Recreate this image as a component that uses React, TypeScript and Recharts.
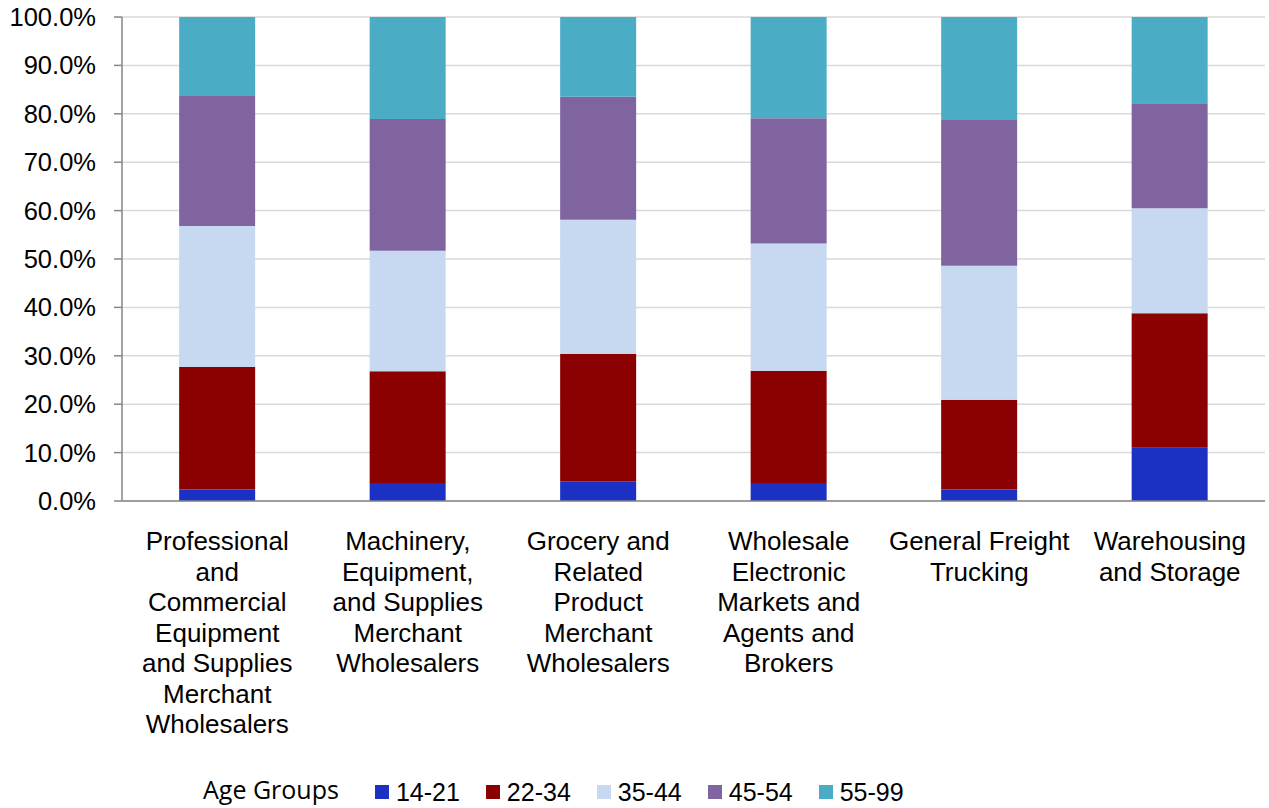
import React from 'react';
import { BarChart, Bar, XAxis, YAxis, CartesianGrid } from 'recharts';

const categories = [
  'Professional and Commercial Equipment and Supplies Merchant Wholesalers',
  'Machinery, Equipment, and Supplies Merchant Wholesalers',
  'Grocery and Related Product Merchant Wholesalers',
  'Wholesale Electronic Markets and Agents and Brokers',
  'General Freight Trucking',
  'Warehousing and Storage',
];

const categoryLines = [
  ['Professional', 'and', 'Commercial', 'Equipment', 'and Supplies', 'Merchant', 'Wholesalers'],
  ['Machinery,', 'Equipment,', 'and Supplies', 'Merchant', 'Wholesalers'],
  ['Grocery and', 'Related', 'Product', 'Merchant', 'Wholesalers'],
  ['Wholesale', 'Electronic', 'Markets and', 'Agents and', 'Brokers'],
  ['General Freight', 'Trucking'],
  ['Warehousing', 'and Storage'],
];

const seriesNames = ['14-21', '22-34', '35-44', '45-54', '55-99'];
const seriesColors = ['#1a31c4', '#8b0000', '#c6d9f0', '#8064a0', '#4bacc6'];

const age14_21 = [2.4, 3.7, 4.1, 3.7, 2.4, 11.0];
const age22_34 = [25.3, 23.1, 26.3, 23.2, 18.5, 27.8];
const age35_44 = [29.1, 24.9, 27.7, 26.3, 27.7, 21.7];
const age45_54 = [26.9, 27.2, 25.4, 25.9, 30.1, 21.7];
const age55_99 = [16.3, 21.1, 16.5, 20.9, 21.3, 17.8];

const yTicks = [0, 10, 20, 30, 40, 50, 60, 70, 80, 90, 100];
const boundaryTicks = [0, 1, 2, 3, 4, 5, 6];

const seriesValues = [age14_21, age22_34, age35_44, age45_54, age55_99];

const data = categories.map((c, i) => {
  const row: Record<string, any> = { name: c, idx: i };
  seriesNames.forEach((s, k) => {
    row[s] = seriesValues[k][i];
  });
  return row;
});

const FONT = '"Liberation Sans", Arial, sans-serif';

const CategoryTick = (props: any) => {
  const { x, y, payload } = props;
  const lines = categoryLines[payload.index] || [String(payload.value)];
  return (
    <text x={x} y={y + 49} textAnchor="middle" fontFamily={FONT} fontSize={26} fill="#000">
      {lines.map((l, i) => (
        <tspan key={i} x={x} dy={i === 0 ? 0 : 30.5}>
          {l}
        </tspan>
      ))}
    </text>
  );
};

const EmptyTick = () => <g />;

export default function App() {
  return (
    <div style={{ position: 'absolute', left: 0, top: 0, width: 1269, height: 808, background: '#fff' }}>
      <BarChart
        width={1269}
        height={808}
        data={data}
        margin={{ top: 17, right: 4, left: 0, bottom: 0 }}
        barCategoryGap="30%"
      >
        <CartesianGrid
          vertical={false}
          stroke="#d9d9d9"
          strokeWidth={1.5}
          xAxisId="cat"
          yAxisId="y"
        />
        <XAxis
          xAxisId="grid"
          type="number"
          domain={[0, 6]}
          ticks={boundaryTicks}
          allowDataOverflow
          height={0}
          axisLine={false}
          tickLine={{ stroke: '#868686', strokeWidth: 1.5 }}
          tickSize={8}
          tick={<EmptyTick />}
          interval={0}
        />
        <XAxis
          xAxisId="cat"
          dataKey="name"
          height={307}
          interval={0}
          tickLine={false}
          tickSize={0}
          tickMargin={0}
          axisLine={{ stroke: '#868686', strokeWidth: 1.5 }}
          tick={<CategoryTick />}
        />
        <YAxis
          yAxisId="y"
          width={122}
          domain={[0, 100]}
          ticks={yTicks}
          interval={0}
          tickFormatter={(v: number) => v.toFixed(1) + '%'}
          tick={{ fontFamily: FONT, fontSize: 25.5, fill: '#000' }}
          tickSize={8}
          tickMargin={18}
          tickLine={{ stroke: '#868686', strokeWidth: 1.5 }}
          axisLine={{ stroke: '#868686', strokeWidth: 1.5 }}
        />
        {seriesNames.map((s, k) => (
          <Bar
            key={s}
            dataKey={s}
            stackId="a"
            xAxisId="cat"
            yAxisId="y"
            fill={seriesColors[k]}
            isAnimationActive={false}
          />
        ))}
      </BarChart>
      <div
        style={{
          position: 'absolute',
          left: 203,
          top: 774,
          height: 36,
          display: 'flex',
          alignItems: 'center',
          whiteSpace: 'nowrap',
        }}
      >
        <span
          style={{
            fontFamily: '"Open Sans", sans-serif',
            fontSize: 25,
            color: '#000',
            marginRight: 36,
            position: 'relative',
            top: -3,
          }}
        >
          Age Groups
        </span>
        {seriesNames.map((s, k) => (
          <span key={s} style={{ display: 'flex', alignItems: 'center', marginRight: 26 }}>
            <span style={{ display: 'inline-block', width: 14, height: 14, background: seriesColors[k], marginRight: 7 }} />
            <span style={{ fontFamily: FONT, fontSize: 25, color: '#000' }}>{s}</span>
          </span>
        ))}
      </div>
    </div>
  );
}
